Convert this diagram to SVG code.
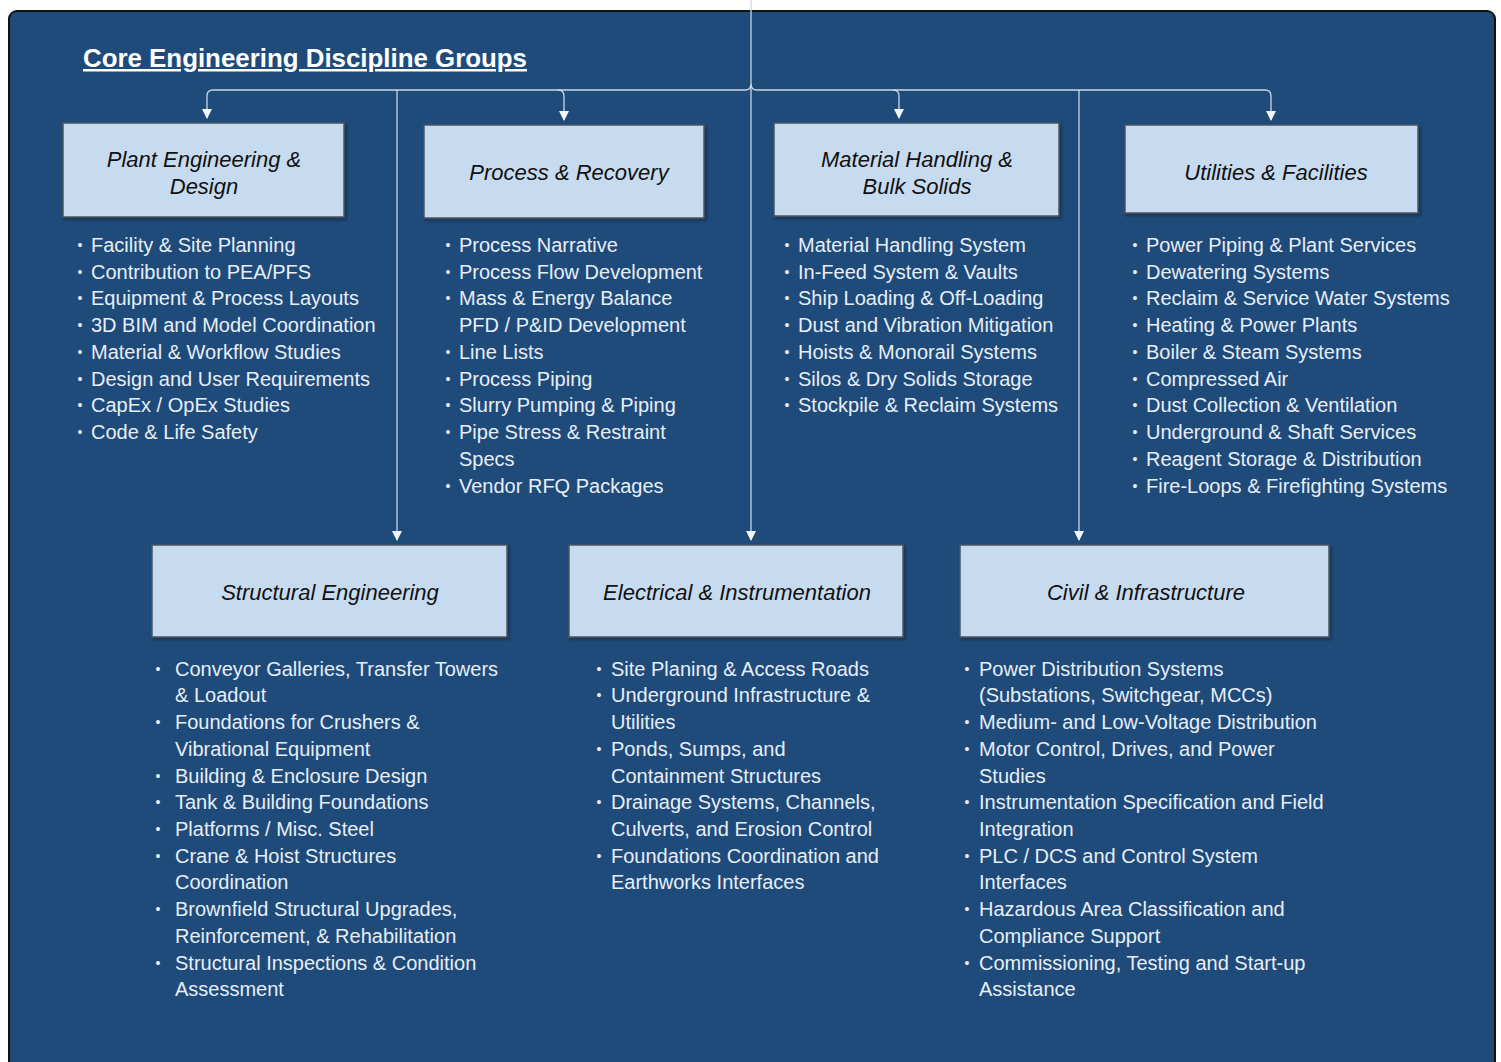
<svg xmlns="http://www.w3.org/2000/svg" width="1501" height="1062" viewBox="0 0 1501 1062">
<defs>
<style>
.panel{fill:#1f4b7b;stroke:#111;stroke-width:2}
.box{fill:#c7dbf0;stroke:#4d5560;stroke-width:1.5}
.lbl{font-family:"Liberation Sans",Arial,sans-serif;font-style:italic;font-size:22px;fill:#111;text-anchor:middle}
.item{font-family:"Liberation Sans",Arial,sans-serif;font-size:20px;fill:#e8eef6}
.bul{font-family:"Liberation Sans",Arial,sans-serif;font-size:14px;fill:#e8eef6;text-anchor:middle}
.title{font-family:"Liberation Sans",Arial,sans-serif;font-size:25px;font-weight:bold;fill:#ffffff;text-decoration:underline}
.conn{fill:none;stroke:#cbd6e4;stroke-width:1.3}
</style>
<marker id="arr" markerWidth="10" markerHeight="12" refX="9" refY="5" orient="auto" markerUnits="userSpaceOnUse">
<path d="M0,0 L10,5 L0,10 Z" fill="#f2f6fb"/>
</marker>
<filter id="sh" x="-5%" y="-5%" width="115%" height="120%">
<feDropShadow dx="1.5" dy="2" stdDeviation="1.5" flood-color="#0b1a2c" flood-opacity="0.6"/>
</filter>
</defs>
<rect x="0" y="0" width="1501" height="1062" fill="#ffffff"/>
<rect class="panel" x="9" y="11" width="1486" height="1080" rx="8"/>
<text class="title" x="83" y="67" textLength="444" lengthAdjust="spacingAndGlyphs">Core Engineering Discipline Groups</text>

<g id="connectors">
<path class="conn" d="M751,0 V540" marker-end="url(#arr)"/>
<path class="conn" d="M745,90 H213 Q207,90 207,96 V118" marker-end="url(#arr)"/>
<path class="conn" d="M757,90 H1265 Q1271,90 1271,96 V120" marker-end="url(#arr)"/>
<path class="conn" d="M558,90 Q564,90 564,96 V120" marker-end="url(#arr)"/>
<path class="conn" d="M893,90 Q899,90 899,96 V118" marker-end="url(#arr)"/>
<path class="conn" d="M397,90 V540" marker-end="url(#arr)"/>
<path class="conn" d="M1079,90 V540" marker-end="url(#arr)"/>
<path class="conn" d="M745,90 Q751,90 751,84 M757,90 Q751,90 751,84"/>
</g>

<g id="n1">
<rect class="box" x="63" y="123" width="281" height="94" filter="url(#sh)"/>
<text class="lbl" x="204" y="167">Plant Engineering &amp;</text>
<text class="lbl" x="204" y="194">Design</text>
</g>
<g id="n2">
<rect class="box" x="424" y="125" width="280" height="93" filter="url(#sh)"/>
<text class="lbl" x="569" y="180">Process &amp; Recovery</text>
</g>
<g id="n3">
<rect class="box" x="774" y="123" width="285" height="93" filter="url(#sh)"/>
<text class="lbl" x="917" y="167">Material Handling &amp;</text>
<text class="lbl" x="917" y="194">Bulk Solids</text>
</g>
<g id="n4">
<rect class="box" x="1125" y="125" width="293" height="88" filter="url(#sh)"/>
<text class="lbl" x="1276" y="180">Utilities &amp; Facilities</text>
</g>
<g id="n5">
<rect class="box" x="152" y="545" width="355" height="92" filter="url(#sh)"/>
<text class="lbl" x="330" y="600">Structural Engineering</text>
</g>
<g id="n6">
<rect class="box" x="569" y="545" width="334" height="92" filter="url(#sh)"/>
<text class="lbl" x="737" y="600">Electrical &amp; Instrumentation</text>
</g>
<g id="n7">
<rect class="box" x="960" y="545" width="369" height="92" filter="url(#sh)"/>
<text class="lbl" x="1146" y="600">Civil &amp; Infrastructure</text>
</g>

<g id="list1">
<text class="bul" x="80" y="250">•</text><text class="item" x="91" y="252">Facility &amp; Site Planning</text>
<text class="bul" x="80" y="277">•</text><text class="item" x="91" y="279">Contribution to PEA/PFS</text>
<text class="bul" x="80" y="303">•</text><text class="item" x="91" y="305">Equipment &amp; Process Layouts</text>
<text class="bul" x="80" y="330">•</text><text class="item" x="91" y="332">3D BIM and Model Coordination</text>
<text class="bul" x="80" y="357">•</text><text class="item" x="91" y="359">Material &amp; Workflow Studies</text>
<text class="bul" x="80" y="384">•</text><text class="item" x="91" y="386">Design and User Requirements</text>
<text class="bul" x="80" y="410">•</text><text class="item" x="91" y="412">CapEx / OpEx Studies</text>
<text class="bul" x="80" y="437">•</text><text class="item" x="91" y="439">Code &amp; Life Safety</text>
</g>
<g id="list2">
<text class="bul" x="448" y="250">•</text><text class="item" x="459" y="252">Process Narrative</text>
<text class="bul" x="448" y="277">•</text><text class="item" x="459" y="279">Process Flow Development</text>
<text class="bul" x="448" y="303">•</text><text class="item" x="459" y="305">Mass &amp; Energy Balance</text>
<text class="item" x="459" y="332">PFD / P&amp;ID Development</text>
<text class="bul" x="448" y="357">•</text><text class="item" x="459" y="359">Line Lists</text>
<text class="bul" x="448" y="384">•</text><text class="item" x="459" y="386">Process Piping</text>
<text class="bul" x="448" y="410">•</text><text class="item" x="459" y="412">Slurry Pumping &amp; Piping</text>
<text class="bul" x="448" y="437">•</text><text class="item" x="459" y="439">Pipe Stress &amp; Restraint</text>
<text class="item" x="459" y="466">Specs</text>
<text class="bul" x="448" y="491">•</text><text class="item" x="459" y="493">Vendor RFQ Packages</text>
</g>
<g id="list3">
<text class="bul" x="787" y="250">•</text><text class="item" x="798" y="252">Material Handling System</text>
<text class="bul" x="787" y="277">•</text><text class="item" x="798" y="279">In-Feed System &amp; Vaults</text>
<text class="bul" x="787" y="303">•</text><text class="item" x="798" y="305">Ship Loading &amp; Off-Loading</text>
<text class="bul" x="787" y="330">•</text><text class="item" x="798" y="332">Dust and Vibration Mitigation</text>
<text class="bul" x="787" y="357">•</text><text class="item" x="798" y="359">Hoists &amp; Monorail Systems</text>
<text class="bul" x="787" y="384">•</text><text class="item" x="798" y="386">Silos &amp; Dry Solids Storage</text>
<text class="bul" x="787" y="410">•</text><text class="item" x="798" y="412">Stockpile &amp; Reclaim Systems</text>
</g>
<g id="list4">
<text class="bul" x="1135" y="250">•</text><text class="item" x="1146" y="252">Power Piping &amp; Plant Services</text>
<text class="bul" x="1135" y="277">•</text><text class="item" x="1146" y="279">Dewatering Systems</text>
<text class="bul" x="1135" y="303">•</text><text class="item" x="1146" y="305">Reclaim &amp; Service Water Systems</text>
<text class="bul" x="1135" y="330">•</text><text class="item" x="1146" y="332">Heating &amp; Power Plants</text>
<text class="bul" x="1135" y="357">•</text><text class="item" x="1146" y="359">Boiler &amp; Steam Systems</text>
<text class="bul" x="1135" y="384">•</text><text class="item" x="1146" y="386">Compressed Air</text>
<text class="bul" x="1135" y="410">•</text><text class="item" x="1146" y="412">Dust Collection &amp; Ventilation</text>
<text class="bul" x="1135" y="437">•</text><text class="item" x="1146" y="439">Underground &amp; Shaft Services</text>
<text class="bul" x="1135" y="464">•</text><text class="item" x="1146" y="466">Reagent Storage &amp; Distribution</text>
<text class="bul" x="1135" y="491">•</text><text class="item" x="1146" y="493">Fire-Loops &amp; Firefighting Systems</text>
</g>
<g id="list5">
<text class="bul" x="158" y="674">•</text><text class="item" x="175" y="676">Conveyor Galleries, Transfer Towers</text>
<text class="item" x="175" y="702">&amp; Loadout</text>
<text class="bul" x="158" y="727">•</text><text class="item" x="175" y="729">Foundations for Crushers &amp;</text>
<text class="item" x="175" y="756">Vibrational Equipment</text>
<text class="bul" x="158" y="781">•</text><text class="item" x="175" y="783">Building &amp; Enclosure Design</text>
<text class="bul" x="158" y="807">•</text><text class="item" x="175" y="809">Tank &amp; Building Foundations</text>
<text class="bul" x="158" y="834">•</text><text class="item" x="175" y="836">Platforms / Misc. Steel</text>
<text class="bul" x="158" y="861">•</text><text class="item" x="175" y="863">Crane &amp; Hoist Structures</text>
<text class="item" x="175" y="889">Coordination</text>
<text class="bul" x="158" y="914">•</text><text class="item" x="175" y="916">Brownfield Structural Upgrades,</text>
<text class="item" x="175" y="943">Reinforcement, &amp; Rehabilitation</text>
<text class="bul" x="158" y="968">•</text><text class="item" x="175" y="970">Structural Inspections &amp; Condition</text>
<text class="item" x="175" y="996">Assessment</text>
</g>
<g id="list6">
<text class="bul" x="599" y="674">•</text><text class="item" x="611" y="676">Site Planing &amp; Access Roads</text>
<text class="bul" x="599" y="700">•</text><text class="item" x="611" y="702">Underground Infrastructure &amp;</text>
<text class="item" x="611" y="729">Utilities</text>
<text class="bul" x="599" y="754">•</text><text class="item" x="611" y="756">Ponds, Sumps, and</text>
<text class="item" x="611" y="783">Containment Structures</text>
<text class="bul" x="599" y="807">•</text><text class="item" x="611" y="809">Drainage Systems, Channels,</text>
<text class="item" x="611" y="836">Culverts, and Erosion Control</text>
<text class="bul" x="599" y="861">•</text><text class="item" x="611" y="863">Foundations Coordination and</text>
<text class="item" x="611" y="889">Earthworks Interfaces</text>
</g>
<g id="list7">
<text class="bul" x="967" y="674">•</text><text class="item" x="979" y="676">Power Distribution Systems</text>
<text class="item" x="979" y="702">(Substations, Switchgear, MCCs)</text>
<text class="bul" x="967" y="727">•</text><text class="item" x="979" y="729">Medium- and Low-Voltage Distribution</text>
<text class="bul" x="967" y="754">•</text><text class="item" x="979" y="756">Motor Control, Drives, and Power</text>
<text class="item" x="979" y="783">Studies</text>
<text class="bul" x="967" y="807">•</text><text class="item" x="979" y="809">Instrumentation Specification and Field</text>
<text class="item" x="979" y="836">Integration</text>
<text class="bul" x="967" y="861">•</text><text class="item" x="979" y="863">PLC / DCS and Control System</text>
<text class="item" x="979" y="889">Interfaces</text>
<text class="bul" x="967" y="914">•</text><text class="item" x="979" y="916">Hazardous Area Classification and</text>
<text class="item" x="979" y="943">Compliance Support</text>
<text class="bul" x="967" y="968">•</text><text class="item" x="979" y="970">Commissioning, Testing and Start-up</text>
<text class="item" x="979" y="996">Assistance</text>
</g>
</svg>
